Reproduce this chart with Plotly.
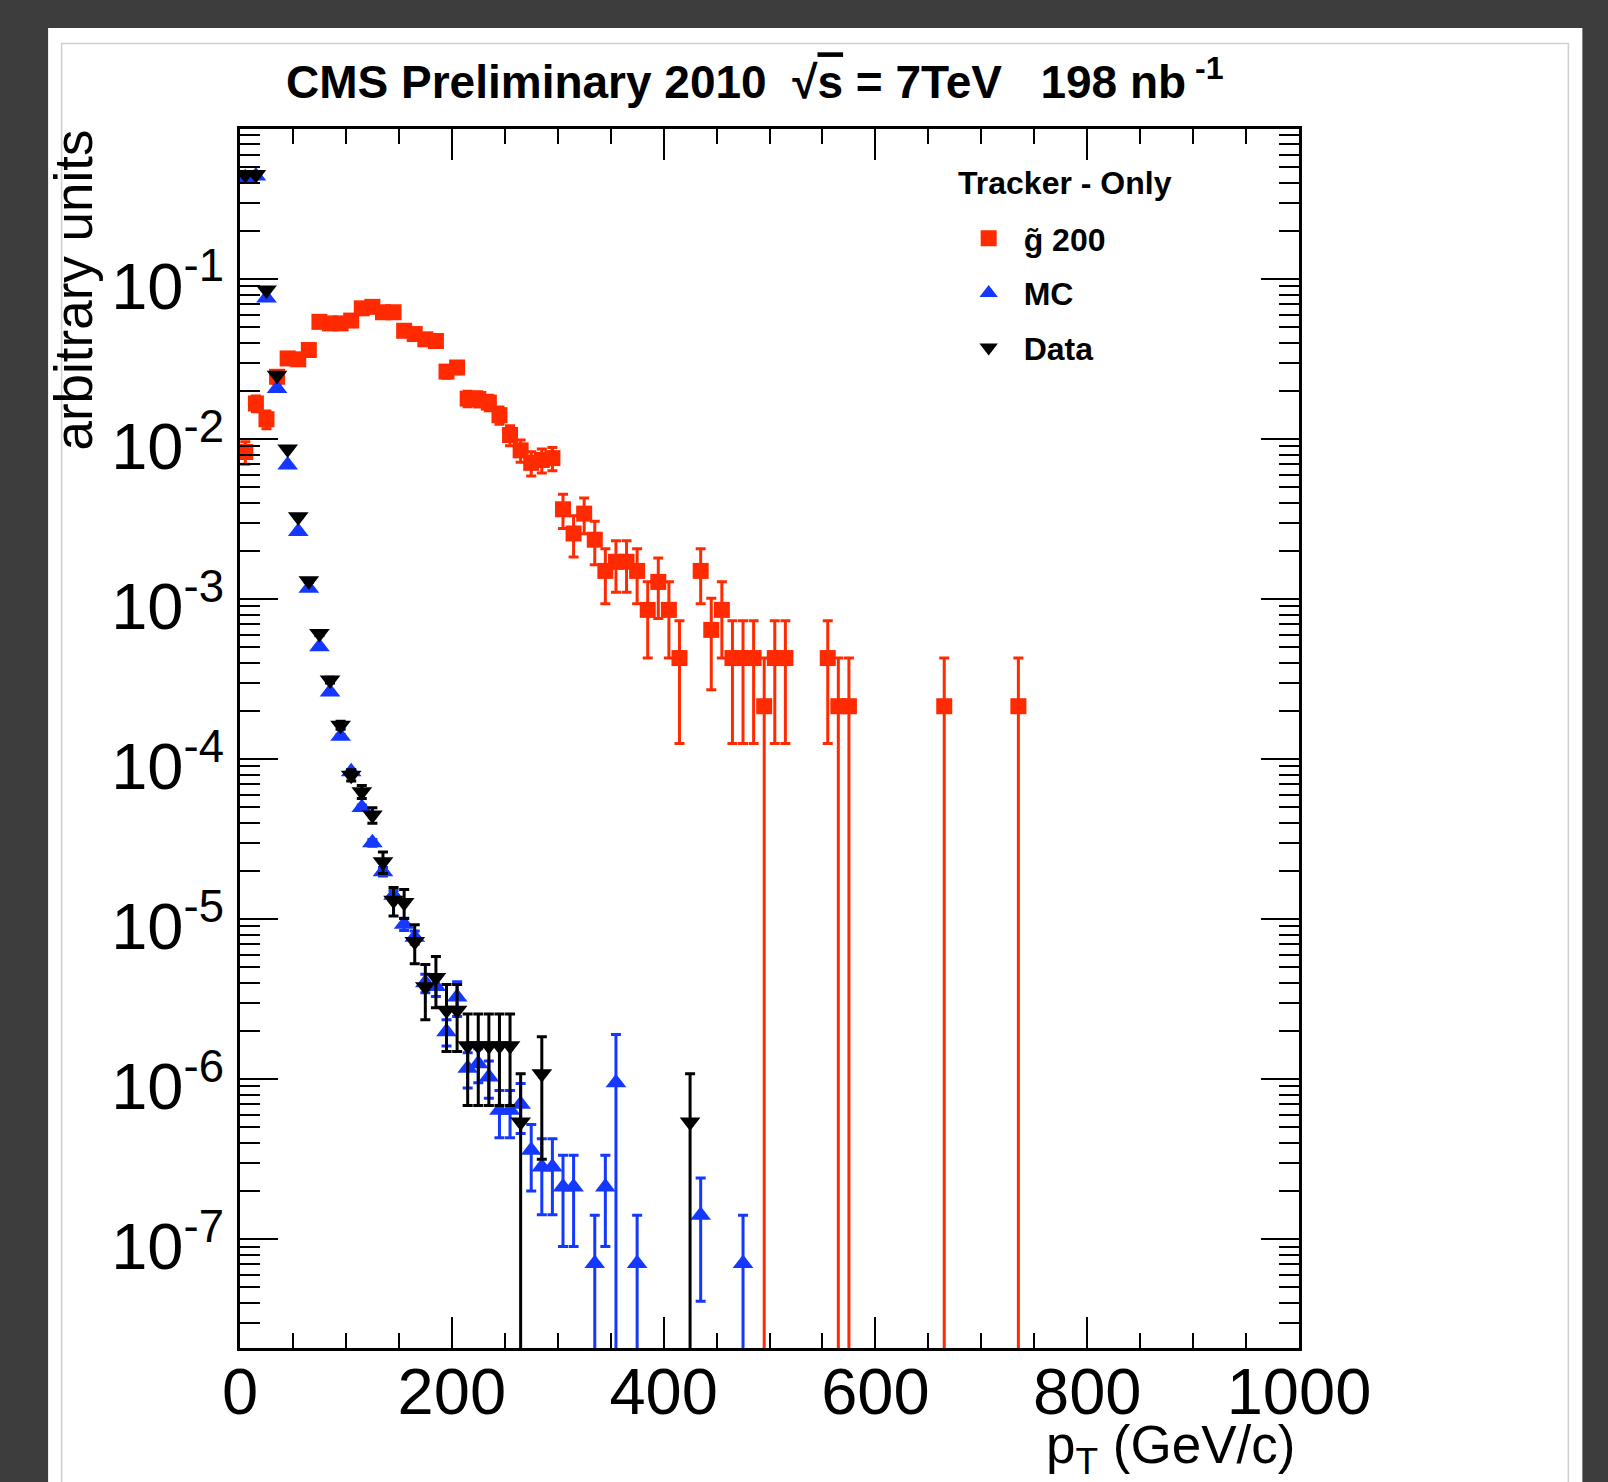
import plotly.graph_objects as go

# ---------------- data ----------------
# gluino 200 signal (red squares)
sig_pt = [5, 15, 25, 35, 45, 55, 65, 75, 85, 95, 105, 115, 125, 135, 145, 155, 165, 175, 185, 195,
          205, 215, 225, 235, 245, 255, 265, 275, 285, 295, 305, 315, 325, 335, 345, 355, 365, 375, 385, 395,
          405, 415, 435, 445, 455, 465, 475, 485, 495, 505, 515, 555, 565, 575, 665, 735]
sig_val = [8.3e-3, 1.67e-2, 1.33e-2, 2.45e-2, 3.19e-2, 3.15e-2, 3.6e-2, 5.4e-2, 5.28e-2, 5.28e-2,
           5.5e-2, 6.56e-2, 6.7e-2, 6.2e-2, 6.2e-2, 4.75e-2, 4.53e-2, 4.2e-2, 4.1e-2, 2.64e-2,
           2.8e-2, 1.79e-2, 1.78e-2, 1.69e-2, 1.41e-2, 1.06e-2, 8.5e-3, 7.1e-3, 7.4e-3, 7.6e-3,
           3.64e-3, 2.57e-3, 3.42e-3, 2.35e-3, 1.50e-3, 1.71e-3, 1.71e-3, 1.50e-3, 8.56e-4, 1.28e-3,
           8.56e-4, 4.28e-4, 1.50e-3, 6.42e-4, 8.56e-4, 4.28e-4, 4.28e-4, 4.28e-4, 2.14e-4, 4.28e-4,
           4.28e-4, 4.28e-4, 2.14e-4, 2.14e-4, 2.14e-4, 2.14e-4]
sig_err = [1.33e-3, 1.89e-3, 1.69e-3, 2.29e-3, 2.61e-3, 2.60e-3, 2.78e-3, 3.40e-3, 3.36e-3, 3.36e-3,
           3.43e-3, 3.75e-3, 3.79e-3, 3.64e-3, 3.64e-3, 3.19e-3, 3.11e-3, 3.00e-3, 2.96e-3, 2.38e-3,
           2.45e-3, 1.96e-3, 1.95e-3, 1.90e-3, 1.74e-3, 1.51e-3, 1.35e-3, 1.23e-3, 1.26e-3, 1.27e-3,
           8.82e-4, 7.41e-4, 8.56e-4, 7.10e-4, 5.66e-4, 6.05e-4, 6.05e-4, 5.66e-4, 4.28e-4, 5.24e-4,
           4.28e-4, 3.03e-4, 5.66e-4, 3.71e-4, 4.28e-4, 3.03e-4, 3.03e-4, 3.03e-4, 2.14e-4, 3.03e-4,
           3.03e-4, 3.03e-4, 2.14e-4, 2.14e-4, 2.14e-4, 2.14e-4]

# Monte Carlo (blue up-triangles)
mc_pt = [5, 15, 25, 35, 45, 55, 65, 75, 85, 95, 105, 115, 125, 135, 145, 155, 165, 175, 185, 195,
         205, 215, 225, 235, 245, 255, 265, 275, 285, 295, 305, 315, 335, 345, 355, 375, 435, 475]
mc_val = [0.43, 0.44, 7.6e-2, 2.07e-2, 6.88e-3, 2.64e-3, 1.17e-3, 5.03e-4, 2.63e-4, 1.39e-4,
          8.33e-5, 4.98e-5, 3.0e-5, 1.98e-5, 1.41e-5, 9.3e-6, 7.7e-6, 4.0e-6, 3.8e-6, 1.98e-6,
          3.26e-6, 1.17e-6, 1.25e-6, 1.03e-6, 6.4e-7, 6.4e-7, 6.98e-7, 3.6e-7, 2.83e-7, 2.83e-7,
          2.12e-7, 2.12e-7, 7.05e-8, 2.12e-7, 9.5e-7, 7.05e-8, 1.41e-7, 7.05e-8]
mc_err = [1.7e-4, 1.8e-4, 7.3e-5, 3.8e-5, 2.2e-5, 1.4e-5, 9.1e-6, 6.0e-6, 4.3e-6, 3.1e-6,
          2.4e-6, 1.9e-6, 1.5e-6, 1.2e-6, 1.0e-6, 8.1e-7, 7.4e-7, 5.3e-7, 5.2e-7, 3.7e-7,
          8.0e-7, 2.9e-7, 3.0e-7, 2.7e-7, 2.1e-7, 2.1e-7, 2.4e-7, 1.6e-7, 1.41e-7, 1.41e-7,
          1.22e-7, 1.22e-7, 7.05e-8, 1.22e-7, 9.5e-7, 7.05e-8, 1.0e-7, 7.05e-8]

# Data (black down-triangles)
data_pt = [5, 15, 25, 35, 45, 55, 65, 75, 85, 95, 105, 115, 125, 135, 145, 155, 165, 175, 185, 195,
           205, 215, 225, 235, 245, 255, 265, 285, 425]
data_val = [0.45, 0.45, 8.53e-2, 2.5e-2, 8.66e-3, 3.27e-3, 1.30e-3, 6.1e-4, 3.12e-4, 1.63e-4,
            7.94e-5, 6.25e-5, 4.47e-5, 2.28e-5, 1.31e-5, 1.27e-5, 7.24e-6, 3.78e-6, 4.32e-6, 2.70e-6,
            2.70e-6, 1.62e-6, 1.62e-6, 1.62e-6, 1.62e-6, 1.62e-6, 5.4e-7, 1.08e-6, 5.4e-7]
data_err = [4.9e-4, 4.9e-4, 2.15e-4, 1.16e-4, 6.8e-5, 4.2e-5, 2.65e-5, 1.8e-5, 1.3e-5, 9.4e-6,
            6.5e-6, 5.8e-6, 4.9e-6, 3.5e-6, 2.65e-6, 2.6e-6, 1.98e-6, 1.43e-6, 1.53e-6, 1.21e-6,
            1.21e-6, 9.35e-7, 9.35e-7, 9.35e-7, 9.35e-7, 9.35e-7, 5.4e-7, 7.64e-7, 5.4e-7]

x_tickvals = [0, 200, 400, 600, 800, 1000]
y_tickvals = [1e-7, 1e-6, 1e-5, 1e-4, 1e-3, 1e-2, 1e-1]
y_ticktext = ["10<sup>-7</sup>", "10<sup>-6</sup>", "10<sup>-5</sup>", "10<sup>-4</sup>",
              "10<sup>-3</sup>", "10<sup>-2</sup>", "10<sup>-1</sup>"]

# ---------------- styling ----------------
FONT = "Liberation Sans, Arial, Helvetica, sans-serif"
RED = "#ff2a00"
BLUE = "#1438ff"
BLACK = "#000000"
NB = "\u00a0"

fig = go.Figure()


def err(arr, color):
    return dict(type="data", array=arr, symmetric=True, color=color, thickness=3, width=5)


fig.add_trace(go.Scatter(
    x=sig_pt, y=sig_val, mode="markers", name="g\u0303 200", legendgroup="sig",
    marker=dict(symbol="square", size=16, color=RED, line=dict(width=0)),
    error_y=err(sig_err, RED)))
fig.add_trace(go.Scatter(
    x=mc_pt, y=mc_val, mode="markers", name="MC", legendgroup="mc",
    marker=dict(symbol="triangle-up", size=18, color=BLUE, line=dict(width=0)),
    error_y=err(mc_err, BLUE)))
fig.add_trace(go.Scatter(
    x=data_pt, y=data_val, mode="markers", name="Data", legendgroup="data",
    marker=dict(symbol="triangle-down", size=18, color=BLACK, line=dict(width=0)),
    error_y=err(data_err, BLACK)))

L, R, T, B = 240, 1299.5, 129, 1348
W, H = R - L, B - T


def px2x(p):
    return (p - L) / W


def px2y(p):
    return (B - p) / H


fig.update_layout(
    width=1608, height=1482,
    margin=dict(l=L, r=1608 - R, t=T, b=1482 - B, pad=0),
    paper_bgcolor="#3d3d3d",
    plot_bgcolor="white",
    font=dict(family=FONT, color="black"),
    showlegend=True,
    legend=dict(
        x=px2x(954), y=px2y(211), xanchor="left", yanchor="top",
        bgcolor="rgba(0,0,0,0)", borderwidth=0,
        font=dict(family=FONT, size=32, color="black", weight="bold"),
        itemwidth=60, traceorder="grouped", tracegroupgap=10,
    ),
    xaxis=dict(
        range=[0, 1000], tickmode="array", tickvals=x_tickvals,
        ticks="inside", ticklen=31, tickwidth=2, tickcolor="black",
        showline=True, linewidth=3, linecolor="black", mirror="ticks",
        showgrid=False, zeroline=False, ticklabelstandoff=-15,
        tickfont=dict(family=FONT, size=65, color="black"),
        minor=dict(dtick=50, ticks="inside", ticklen=15, tickwidth=2, tickcolor="black", showgrid=False),
    ),
    yaxis=dict(
        type="log", range=[-7.68, -0.0625], tickmode="array",
        tickvals=y_tickvals, ticktext=y_ticktext,
        ticks="inside", ticklen=38, tickwidth=2, tickcolor="black",
        showline=True, linewidth=3, linecolor="black", mirror="ticks",
        showgrid=False, zeroline=False, ticklabelshift=7,
        tickfont=dict(family=FONT, size=65, color="black"),
        minor=dict(dtick="D1", ticks="inside", ticklen=20, tickwidth=2, tickcolor="black", showgrid=False),
    ),
    shapes=[
        dict(type="rect", xref="paper", yref="paper", layer="below",
             x0=px2x(48), x1=px2x(1583), y0=px2y(1520), y1=px2y(28),
             fillcolor="white", line=dict(width=0)),
        dict(type="rect", xref="paper", yref="paper", layer="below",
             x0=px2x(61.5), x1=px2x(1569), y0=px2y(1530), y1=px2y(43.5),
             fillcolor="rgba(0,0,0,0)", line=dict(width=1.5, color="#cfcfcf")),
    ],
    annotations=[
        dict(text="<b>CMS Preliminary 2010" + NB * 2 + "\u221a<span style='text-decoration:overline'>s</span> = 7TeV"
                  + NB * 3 + "198 nb<sup>" + NB + "-1</sup></b>",
             xref="paper", yref="paper", x=px2x(755), y=px2y(79), xanchor="center", yanchor="middle",
             showarrow=False, font=dict(family=FONT, size=46, color="black")),
        dict(text="<b>Tracker - Only</b>",
             xref="paper", yref="paper", x=px2x(956), y=px2y(183), xanchor="left", yanchor="middle",
             showarrow=False, font=dict(family=FONT, size=32, color="black")),
        dict(text="arbitrary units", textangle=-90,
             xref="paper", yref="paper", x=px2x(73), y=px2y(128), xanchor="center", yanchor="top",
             showarrow=False, font=dict(family=FONT, size=53, color="black")),
        dict(text="p<sub>T</sub> (GeV/c)",
             xref="paper", yref="paper", x=px2x(1297), y=px2y(1448), xanchor="right", yanchor="middle",
             showarrow=False, font=dict(family=FONT, size=53, color="black")),
    ],
)

fig.write_html("out.html")
